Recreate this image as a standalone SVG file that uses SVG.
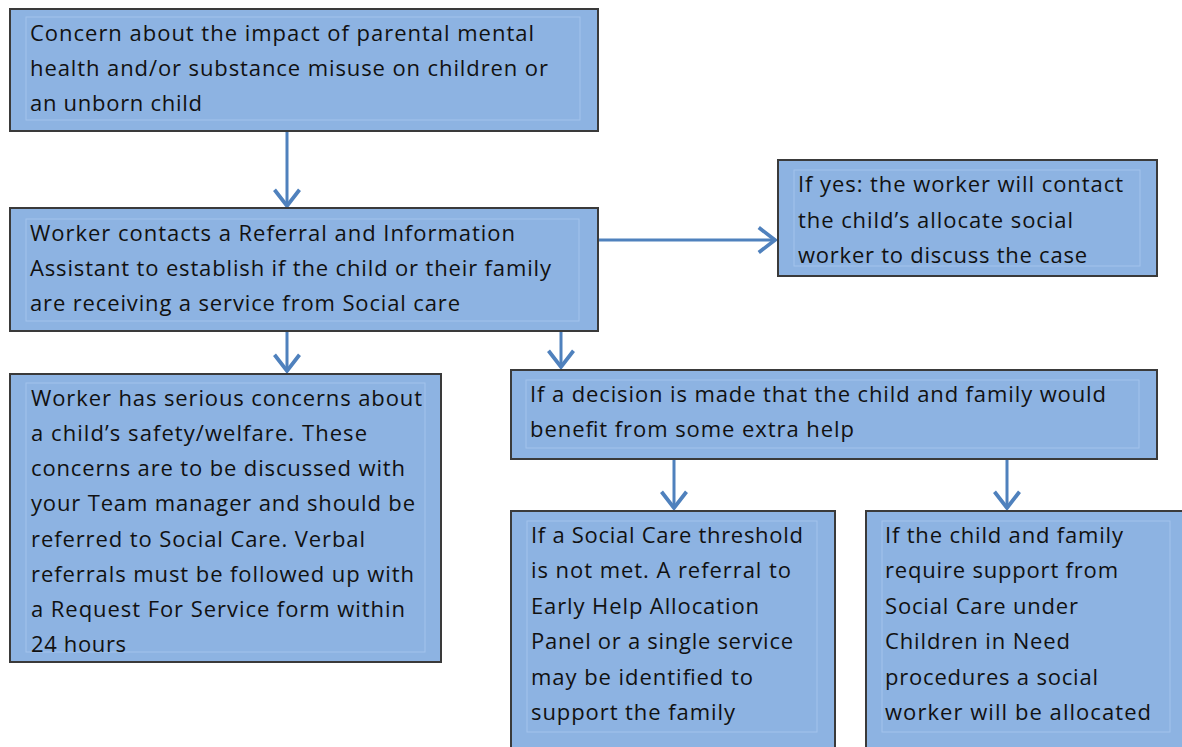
<svg xmlns="http://www.w3.org/2000/svg" width="1182" height="747" viewBox="0 0 1182 747">
<style>
.box{fill:#8db3e2;stroke:#3a3a3a;stroke-width:2}
.inner{fill:none;stroke:#a3c3ec;stroke-width:1}
.t{font-family:"Open Sans","Noto Sans",sans-serif;font-size:22px;fill:#111}
.c{stroke:#4f81bd;stroke-width:3;fill:none}
</style>
<defs>
<marker id="ah" markerUnits="userSpaceOnUse" markerWidth="30" markerHeight="30" viewBox="-16 -12 20 24" refX="0" refY="0" orient="auto">
<path d="M-13,-10 L0,0 L-13,10" fill="none" stroke="#4f81bd" stroke-width="3"/>
</marker>
</defs>
<rect width="1182" height="747" fill="#fff"/>
<g id="connectors">
<line class="c" x1="287" y1="132" x2="287" y2="206" marker-end="url(#ah)"/>
<line class="c" x1="599" y1="240" x2="775" y2="240" marker-end="url(#ah)"/>
<line class="c" x1="287" y1="332" x2="287" y2="371" marker-end="url(#ah)"/>
<line class="c" x1="561" y1="332" x2="561" y2="367" marker-end="url(#ah)"/>
<line class="c" x1="674" y1="460" x2="674" y2="508" marker-end="url(#ah)"/>
<line class="c" x1="1007" y1="460" x2="1007" y2="508" marker-end="url(#ah)"/>
</g>
<g id="n1">
<rect class="box" x="10" y="9" width="588" height="122"/>
<rect class="inner" x="26" y="17" width="554" height="103"/>
<text class="t" x="30" y="41" textLength="504" lengthAdjust="spacing">Concern about the impact of parental mental</text>
<text class="t" x="30" y="76" textLength="518" lengthAdjust="spacing">health and/or substance misuse on children or</text>
<text class="t" x="30" y="111" textLength="172" lengthAdjust="spacing">an unborn child</text>
</g>
<g id="n2">
<rect class="box" x="10" y="208" width="588" height="123"/>
<rect class="inner" x="26" y="219" width="553" height="102"/>
<text class="t" x="30" y="241" textLength="485" lengthAdjust="spacing">Worker contacts a Referral and Information</text>
<text class="t" x="30" y="276" textLength="521" lengthAdjust="spacing">Assistant to establish if the child or their family</text>
<text class="t" x="30" y="311" textLength="430" lengthAdjust="spacing">are receiving a service from Social care</text>
</g>
<g id="n3">
<rect class="box" x="778" y="160" width="379" height="116"/>
<rect class="inner" x="794" y="170" width="346" height="96"/>
<text class="t" x="798" y="192" textLength="325" lengthAdjust="spacing">If yes: the worker will contact</text>
<text class="t" x="798" y="228" textLength="275" lengthAdjust="spacing">the child’s allocate social</text>
<text class="t" x="798" y="263" textLength="289" lengthAdjust="spacing">worker to discuss the case</text>
</g>
<g id="n4">
<rect class="box" x="10" y="374" width="431" height="288"/>
<rect class="inner" x="26" y="383" width="399" height="269"/>
<text class="t" x="31" y="406" textLength="391" lengthAdjust="spacing">Worker has serious concerns about</text>
<text class="t" x="31" y="441" textLength="336" lengthAdjust="spacing">a child’s safety/welfare. These</text>
<text class="t" x="31" y="476" textLength="374" lengthAdjust="spacing">concerns are to be discussed with</text>
<text class="t" x="31" y="511" textLength="384" lengthAdjust="spacing">your Team manager and should be</text>
<text class="t" x="31" y="547" textLength="334" lengthAdjust="spacing">referred to Social Care. Verbal</text>
<text class="t" x="31" y="582" textLength="383" lengthAdjust="spacing">referrals must be followed up with</text>
<text class="t" x="31" y="617" textLength="374" lengthAdjust="spacing">a Request For Service form within</text>
<text class="t" x="31" y="652" textLength="95" lengthAdjust="spacing">24 hours</text>
</g>
<g id="n5">
<rect class="box" x="511" y="370" width="646" height="89"/>
<rect class="inner" x="526" y="380" width="613" height="68"/>
<text class="t" x="530" y="402" textLength="576" lengthAdjust="spacing">If a decision is made that the child and family would</text>
<text class="t" x="530" y="437" textLength="324" lengthAdjust="spacing">benefit from some extra help</text>
</g>
<g id="n6">
<rect class="box" x="511" y="511" width="324" height="250"/>
<rect class="inner" x="527" y="521" width="290" height="211"/>
<text class="t" x="531" y="543" textLength="272" lengthAdjust="spacing">If a Social Care threshold</text>
<text class="t" x="531" y="578" textLength="260" lengthAdjust="spacing">is not met. A referral to</text>
<text class="t" x="531" y="614" textLength="228" lengthAdjust="spacing">Early Help Allocation</text>
<text class="t" x="531" y="649" textLength="262" lengthAdjust="spacing">Panel or a single service</text>
<text class="t" x="531" y="685" textLength="222" lengthAdjust="spacing">may be identified to</text>
<text class="t" x="531" y="720" textLength="204" lengthAdjust="spacing">support the family</text>
</g>
<g id="n7">
<rect class="box" x="866" y="511" width="330" height="250"/>
<rect class="inner" x="882" y="521" width="288" height="211"/>
<text class="t" x="885" y="543" textLength="238" lengthAdjust="spacing">If the child and family</text>
<text class="t" x="885" y="578" textLength="233" lengthAdjust="spacing">require support from</text>
<text class="t" x="885" y="614" textLength="193" lengthAdjust="spacing">Social Care under</text>
<text class="t" x="885" y="649" textLength="185" lengthAdjust="spacing">Children in Need</text>
<text class="t" x="885" y="685" textLength="213" lengthAdjust="spacing">procedures a social</text>
<text class="t" x="885" y="720" textLength="266" lengthAdjust="spacing">worker will be allocated</text>
</g>
</svg>
